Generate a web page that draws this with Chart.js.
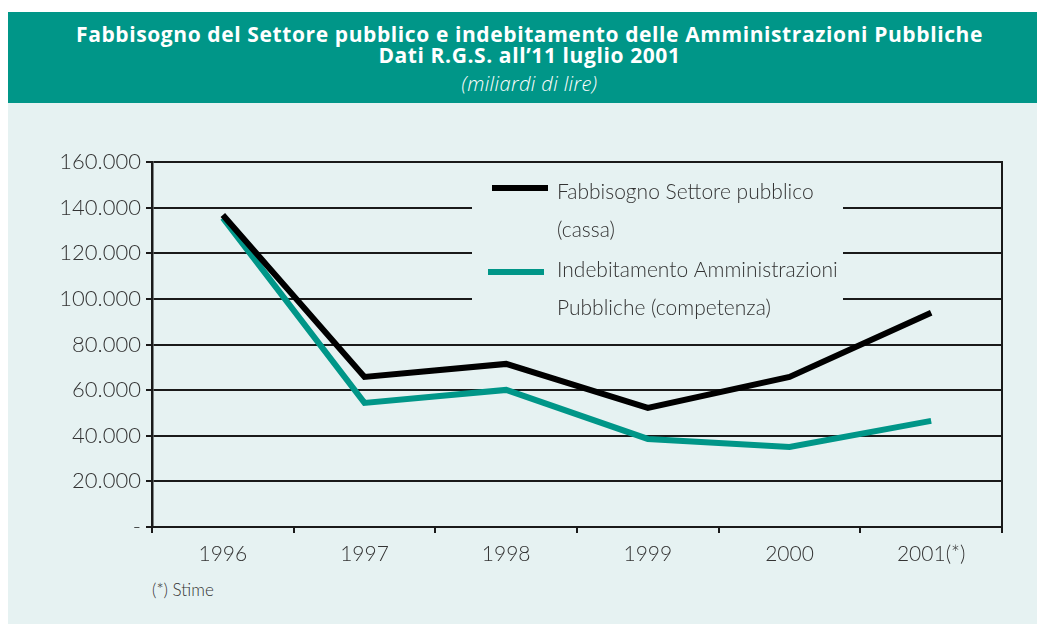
<!DOCTYPE html>
<html>
<head>
<meta charset="utf-8">
<script src="https://cdn.jsdelivr.net/npm/chart.js@4/dist/chart.umd.min.js"></script>
<style>
  html, body { margin:0; padding:0; background:#ffffff; }
  body { width:1037px; height:624px; position:relative; overflow:hidden; font-family: Lato, "Open Sans", sans-serif; }
  #bg { position:absolute; left:8px; top:103px; width:1029px; height:521px; background:#e6f2f2; }
  #titlebar { position:absolute; left:8px; top:12px; width:1029px; height:91px; background:#009688; color:#fff; text-align:center; }
  #t1, #t2 { position:absolute; left:7px; width:100%; font-family:"Open Sans", sans-serif; font-weight:700; font-size:21px; line-height:21px; letter-spacing:0.6px; }
  #t1 { top:12px; }
  #t2 { top:33px; }
  #t3 { position:absolute; left:7px; width:100%; top:60px; font-family:"Open Sans", sans-serif; font-style:italic; font-weight:300; font-size:20px; line-height:24px; letter-spacing:0.4px; }
  #note { position:absolute; left:152px; top:579px; font-size:17px; color:#333; font-weight:300; }
  #wrap { position:absolute; left:0; top:0; width:1037px; height:624px; }
</style>
</head>
<body>
<div id="bg"></div>
<div id="titlebar">
  <div id="t1">Fabbisogno del Settore pubblico e indebitamento delle Amministrazioni Pubbliche</div>
  <div id="t2">Dati R.G.S. all’11 luglio 2001</div>
  <div id="t3">(miliardi di lire)</div>
</div>
<div id="note">(*) Stime</div>
<div id="wrap"><canvas id="c" width="1037" height="624"></canvas></div>
<script>
const categories = ["1996", "1997", "1998", "1999", "2000", "2001(*)"];
const fabbisogno = [136800, 65800, 71500, 52200, 65800, 93900];
const indebitamento = [135500, 54400, 60100, 38600, 35100, 46500];
const yTicks = [0, 20000, 40000, 60000, 80000, 100000, 120000, 140000, 160000];
const legendFabbisogno = ["Fabbisogno Settore pubblico", "(cassa)"];
const legendIndebitamento = ["Indebitamento Amministrazioni", "Pubbliche (competenza)"];

const FONT = 'Lato, "Open Sans", sans-serif';
const BG = '#e6f2f2';
const TEAL = '#009688';

const legendPlugin = {
  id: 'customLegend',
  afterDraw(chart) {
    const ctx = chart.ctx;
    const area = chart.chartArea;
    ctx.save();
    ctx.strokeStyle = '#1a1a1a';
    ctx.lineWidth = 2;
    ctx.beginPath();
    ctx.moveTo(area.right, area.top - 1);
    ctx.lineTo(area.right, area.bottom + 1);
    ctx.stroke();
    const bx = 472, by = 172, bw = 371, bh = 148;
    ctx.fillStyle = BG;
    ctx.fillRect(bx, by, bw, bh);
    const entries = [
      { lines: legendFabbisogno, color: chart.data.datasets[0].borderColor, x0: 492, x1: 548, ly: 188, ty: 192 },
      { lines: legendIndebitamento, color: chart.data.datasets[1].borderColor, x0: 488, x1: 544, ly: 272, ty: 270 }
    ];
    ctx.font = '300 21px ' + FONT;
    ctx.textBaseline = 'middle';
    ctx.textAlign = 'left';
    entries.forEach(e => {
      ctx.strokeStyle = e.color;
      ctx.lineWidth = 6;
      ctx.lineCap = 'butt';
      ctx.beginPath();
      ctx.moveTo(e.x0, e.ly);
      ctx.lineTo(e.x1, e.ly);
      ctx.stroke();
      ctx.fillStyle = '#333';
      e.lines.forEach((t, i) => ctx.fillText(t, 557, e.ty + i * 38));
    });
    ctx.restore();
  }
};

new Chart(document.getElementById('c'), {
  type: 'line',
  data: {
    labels: categories,
    datasets: [
      { label: legendFabbisogno.join(' '), data: fabbisogno, borderColor: '#000000', borderWidth: 6, pointRadius: 0, tension: 0, borderJoinStyle: 'miter', borderCapStyle: 'butt' },
      { label: legendIndebitamento.join(' '), data: indebitamento, borderColor: TEAL, borderWidth: 6, pointRadius: 0, tension: 0, borderJoinStyle: 'miter', borderCapStyle: 'butt' }
    ]
  },
  options: {
    responsive: false,
    animation: false,
    devicePixelRatio: 1,
    layout: { padding: { left: 0, top: 162, right: 35, bottom: 0 } },
    plugins: { legend: { display: false }, title: { display: false }, tooltip: { enabled: false } },
    scales: {
      x: {
        offset: true,
        grid: { offset: true, drawOnChartArea: false, drawTicks: true, tickLength: 6, color: '#1a1a1a', lineWidth: 2 },
        border: { display: true, color: '#1a1a1a', width: 2 },
        ticks: { color: '#333', font: { family: FONT, size: 21, weight: 300 }, padding: 9, maxRotation: 0 },
        afterFit(s) { s.height = 97; }
      },
      y: {
        min: 0, max: 160000,
        afterBuildTicks(s) { s.ticks = yTicks.map(v => ({ value: v })); },
        grid: { color: '#1a1a1a', lineWidth: 2, tickLength: 6, drawTicks: true },
        border: { display: true, color: '#1a1a1a', width: 2.5 },
        ticks: {
          color: '#333', font: { family: FONT, size: 22, weight: 300 }, padding: 5,
          callback: v => v === 0 ? '-' : v.toLocaleString('it-IT').replace(/,/g, '.')
        },
        afterFit(s) { s.width = 152; }
      }
    }
  },
  plugins: [legendPlugin]
});
</script>
</body>
</html>
